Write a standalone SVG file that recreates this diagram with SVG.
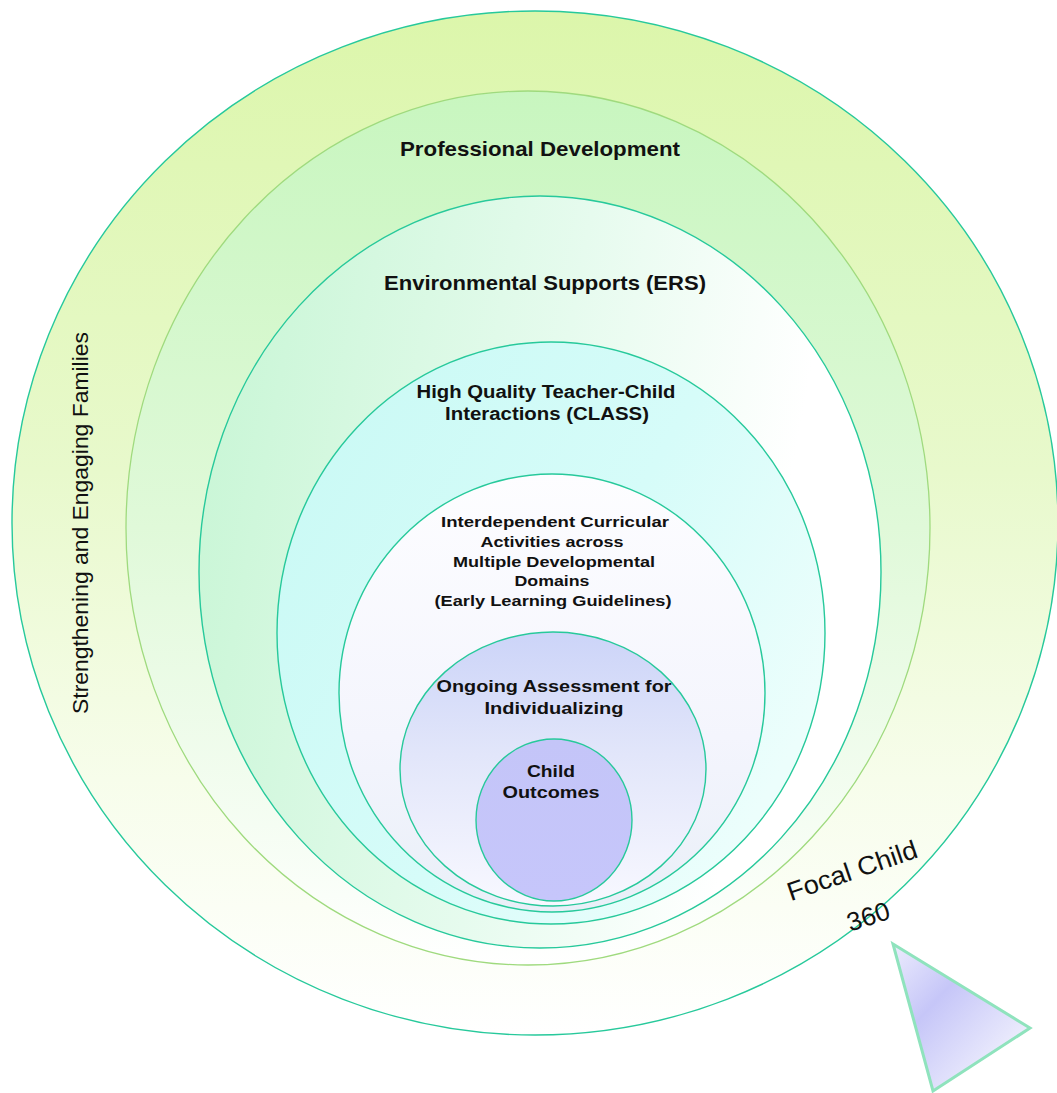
<svg xmlns="http://www.w3.org/2000/svg" width="1057" height="1093" viewBox="0 0 1057 1093">
<style>
  .ring { stroke: #27c99b; stroke-width: 1.4; }
  .ringY { stroke: #9fda7e; stroke-width: 1.3; }
  .lbl { font-family: "Liberation Sans", Arial, sans-serif; font-weight: bold; fill: #111; text-anchor: middle; }
  .plain { font-family: "Liberation Sans", Arial, sans-serif; fill: #111; text-anchor: middle; }
</style>
<defs>
  <linearGradient id="gOuter" x1="0" y1="0" x2="0" y2="1">
    <stop offset="0" stop-color="#dcf6ab"/>
    <stop offset="0.45" stop-color="#e8f9cc"/>
    <stop offset="0.75" stop-color="#f7fdeb"/>
    <stop offset="1" stop-color="#ffffff"/>
  </linearGradient>
  <linearGradient id="gProf" x1="0" y1="0" x2="0" y2="1">
    <stop offset="0" stop-color="#c8f6bf"/>
    <stop offset="0.5" stop-color="#e0f9d9"/>
    <stop offset="1" stop-color="#ffffff"/>
  </linearGradient>
  <linearGradient id="gEnv" x1="0" y1="0.3" x2="1" y2="0.5">
    <stop offset="0" stop-color="#c9f6d6"/>
    <stop offset="0.5" stop-color="#e6fbee"/>
    <stop offset="0.85" stop-color="#ffffff"/>
  </linearGradient>
  <linearGradient id="gHQ" x1="0" y1="0" x2="1" y2="0.6">
    <stop offset="0" stop-color="#c8f9f4"/>
    <stop offset="0.6" stop-color="#d6fcf9"/>
    <stop offset="1" stop-color="#ecfefc"/>
  </linearGradient>
  <linearGradient id="gInter" x1="0" y1="0" x2="0" y2="1">
    <stop offset="0" stop-color="#fdfdff"/>
    <stop offset="0.6" stop-color="#f4f5fd"/>
    <stop offset="1" stop-color="#e9eff8"/>
  </linearGradient>
  <linearGradient id="gOngo" x1="0" y1="0" x2="0" y2="1">
    <stop offset="0" stop-color="#ccd4f8"/>
    <stop offset="0.45" stop-color="#e2e6fa"/>
    <stop offset="1" stop-color="#f8f8ff"/>
  </linearGradient>
  <linearGradient id="gChild" x1="0" y1="0" x2="0" y2="1">
    <stop offset="0" stop-color="#c4c5f8"/>
    <stop offset="1" stop-color="#c6c6fb"/>
  </linearGradient>
  <linearGradient id="gTri" x1="0" y1="0" x2="1" y2="1">
    <stop offset="0" stop-color="#ececfd"/>
    <stop offset="0.35" stop-color="#c6c6f8"/>
    <stop offset="1" stop-color="#ffffff"/>
  </linearGradient>
</defs>

<g id="families">
  <ellipse class="ring" cx="535" cy="523" rx="523" ry="512" fill="url(#gOuter)"/>
  <text class="plain" font-size="22" textLength="382" lengthAdjust="spacingAndGlyphs" transform="translate(88,523) rotate(-90)">Strengthening and Engaging Families</text>
</g>

<g id="professional-development">
  <ellipse class="ringY" cx="528" cy="528" rx="402" ry="437" fill="url(#gProf)"/>
  <text class="lbl" x="540" y="156" font-size="21" textLength="280" lengthAdjust="spacingAndGlyphs">Professional Development</text>
</g>

<g id="environmental-supports">
  <ellipse class="ring" cx="540" cy="572" rx="341" ry="376" fill="url(#gEnv)"/>
  <text class="lbl" x="545" y="290" font-size="21" textLength="322" lengthAdjust="spacingAndGlyphs">Environmental Supports (ERS)</text>
</g>

<g id="teacher-child-interactions">
  <ellipse class="ring" cx="551" cy="633" rx="274" ry="291" fill="url(#gHQ)"/>
  <text class="lbl" x="546" y="398" font-size="18" textLength="259" lengthAdjust="spacingAndGlyphs">High Quality Teacher-Child</text>
  <text class="lbl" x="547" y="420" font-size="18" textLength="204" lengthAdjust="spacingAndGlyphs">Interactions (CLASS)</text>
</g>

<g id="curricular-activities">
  <ellipse class="ring" cx="552" cy="693" rx="213" ry="219" fill="url(#gInter)"/>
  <text class="lbl" x="555" y="527" font-size="15" textLength="228" lengthAdjust="spacingAndGlyphs">Interdependent Curricular</text>
  <text class="lbl" x="552" y="547" font-size="15" textLength="143" lengthAdjust="spacingAndGlyphs">Activities across</text>
  <text class="lbl" x="554" y="567" font-size="15" textLength="202" lengthAdjust="spacingAndGlyphs">Multiple Developmental</text>
  <text class="lbl" x="552" y="586" font-size="15" textLength="75" lengthAdjust="spacingAndGlyphs">Domains</text>
  <text class="lbl" x="553" y="606" font-size="15" textLength="237" lengthAdjust="spacingAndGlyphs">(Early Learning Guidelines)</text>
</g>

<g id="ongoing-assessment">
  <ellipse class="ring" cx="553" cy="769" rx="153" ry="137" fill="url(#gOngo)"/>
  <text class="lbl" x="554" y="692" font-size="17" textLength="235" lengthAdjust="spacingAndGlyphs">Ongoing Assessment for</text>
  <text class="lbl" x="554" y="714" font-size="17" textLength="139" lengthAdjust="spacingAndGlyphs">Individualizing</text>
</g>

<g id="child-outcomes">
  <ellipse class="ring" cx="554" cy="820" rx="78" ry="81" fill="url(#gChild)"/>
  <text class="lbl" x="551" y="777" font-size="17" textLength="48" lengthAdjust="spacingAndGlyphs">Child</text>
  <text class="lbl" x="551" y="798" font-size="17" textLength="97" lengthAdjust="spacingAndGlyphs">Outcomes</text>
</g>

<g id="focal-child">
  <text class="plain" font-size="26" textLength="136" lengthAdjust="spacingAndGlyphs" transform="translate(855,879) rotate(-19)">Focal Child</text>
  <text class="plain" font-size="26" transform="translate(871,925) rotate(-18)">360</text>
  <polygon points="893,944 1030,1028 933,1091" fill="url(#gTri)" stroke="#8fe3bd" stroke-width="3" stroke-linejoin="miter"/>
</g>

<g id="connectors"/>
</svg>
